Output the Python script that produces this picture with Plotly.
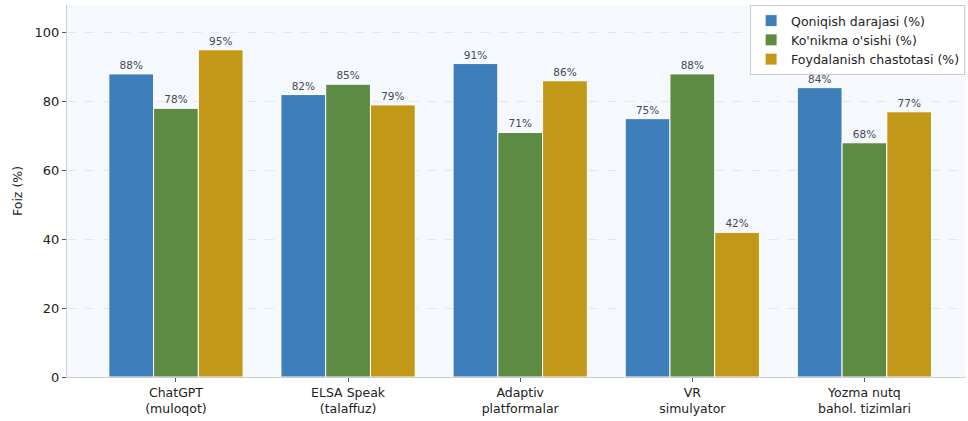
import plotly.graph_objects as go

categories = ["ChatGPT<br>(muloqot)", "ELSA Speak<br>(talaffuz)", "Adaptiv<br>platformalar",
              "VR<br>simulyator", "Yozma nutq<br>bahol. tizimlari"]
series_names = ["Qoniqish darajasi (%)", "Ko'nikma o'sishi (%)", "Foydalanish chastotasi (%)"]
qoniqish = [88, 82, 91, 75, 84]
konikma = [78, 85, 71, 88, 68]
foydalanish = [95, 79, 86, 42, 77]
y_ticks = [0, 20, 40, 60, 80, 100]

colors = ["#3d7ebb", "#5e8b43", "#c29818"]
values = [qoniqish, konikma, foydalanish]

fig = go.Figure()
x_idx = list(range(len(categories)))
for name, vals, col in zip(series_names, values, colors):
    fig.add_trace(go.Bar(
        x=x_idx, y=vals, name=name,
        marker=dict(color=col, line=dict(color="white", width=1)),
        text=[f"{v}%" for v in vals], textposition="outside",
        textfont=dict(size=10.5, color="#454a55"),
        cliponaxis=False,
    ))

fig.update_layout(
    width=968, height=421,
    margin=dict(l=67, r=2, t=5, b=44),
    paper_bgcolor="white", plot_bgcolor="#f5f8fd",
    font=dict(family="DejaVu Sans", size=12.5, color="#222222"),
    barmode="group", bargap=0.22, bargroupgap=0,
    showlegend=True,
    legend=dict(x=0.999, y=1.0, xanchor="right", yanchor="top",
                bgcolor="white", bordercolor="#cccccc", borderwidth=1,
                font=dict(size=12.5), tracegroupgap=0, itemwidth=30),
)
fig.update_xaxes(
    tickmode="array", tickvals=x_idx, ticktext=categories,
    range=[-0.633, 4.59], showgrid=False, zeroline=False,
    showline=True, linecolor="#cccccc", linewidth=1,
    ticks="outside", ticklen=4, tickcolor="#555555",
    tickfont=dict(size=12.5, color="#222222"),
)
fig.update_yaxes(
    range=[0, 108], tickvals=y_ticks, showgrid=True,
    gridcolor="#e3e6ea", griddash="dash", gridwidth=1,
    zeroline=False, showline=True, linecolor="#cccccc", linewidth=1,
    ticks="outside", ticklen=4, tickcolor="#555555",
    tickfont=dict(size=13, color="#222222"),
    title=dict(text="Foiz (%)", font=dict(size=12.5), standoff=9),
)

fig.write_html("out.html", config={"displayModeBar": False},
               post_script="document.body.style.margin='0';document.body.style.overflow='hidden';")
